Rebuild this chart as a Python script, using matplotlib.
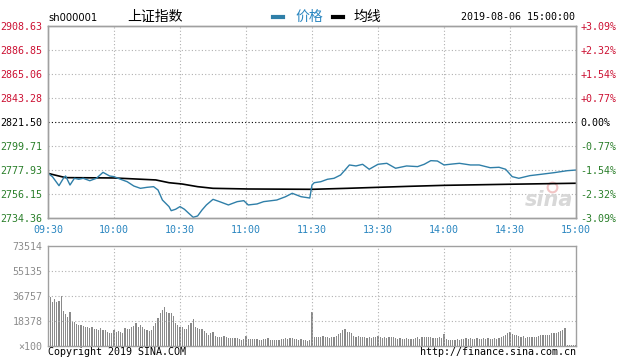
import matplotlib
matplotlib.use("Agg")
import matplotlib.pyplot as plt
import numpy as np

# axis labels / ticks
time_ticks = [0, 30, 60, 90, 120, 150, 180, 210, 240]
time_labels = ["09:30", "10:00", "10:30", "11:00", "11:30", "13:30", "14:00", "14:30", "15:00"]
price_ticks = [2908.63, 2886.85, 2865.06, 2843.28, 2821.50, 2799.71, 2777.93, 2756.15, 2734.36]
pct_labels = ["+3.09%", "+2.32%", "+1.54%", "+0.77%", "0.00%", "-0.77%", "-1.54%", "-2.32%", "-3.09%"]
vol_ticks = [0, 18378, 36757, 55135, 73514]
vol_labels = ["×100", "18378", "36757", "55135", "73514"]
pre_close = 2821.50

# price line (minute index from 09:30, afternoon continues after 120)
price_t = [0, 2, 5, 7, 8, 10, 12, 14, 16, 19, 22, 25, 28, 30, 33, 36, 39, 42, 45, 48,
           50, 52, 55, 56, 58, 60, 62, 64, 66, 68, 70, 72, 75, 78, 82, 86, 89, 91, 95, 98,
           104, 108, 111, 115, 119, 120, 121, 124, 127, 130, 133, 135, 137, 140, 143, 146, 150, 154, 158, 163,
           168, 171, 174, 177, 180, 184, 187, 192, 196, 201, 205, 208, 211, 214, 219, 224, 230, 236, 240]
price_v = [2774.9, 2771.9, 2763.7, 2770.4, 2772.5, 2764.3, 2770.4, 2769.5, 2770.4, 2768.2,
           2770.4, 2775.8, 2772.5, 2771.9, 2769.5, 2767.3, 2763.4, 2761.3, 2762.2, 2762.8,
           2759.8, 2750.7, 2744.7, 2741.0, 2742.3, 2744.7, 2742.3, 2738.6, 2735.0, 2736.2,
           2741.6, 2746.2, 2751.3, 2749.2, 2746.2, 2749.2, 2750.1, 2746.2, 2747.1, 2749.2,
           2750.7, 2753.7, 2756.8, 2753.7, 2752.5, 2764.3, 2766.4, 2767.3, 2769.5, 2770.4,
           2773.4, 2777.9, 2782.5, 2781.6, 2783.1, 2778.6, 2783.1, 2784.0, 2779.5, 2781.6,
           2781.0, 2783.1, 2786.4, 2786.1, 2782.5, 2783.4, 2784.0, 2782.5, 2782.5, 2780.0,
           2780.4, 2778.6, 2771.9, 2770.4, 2772.8, 2774.0, 2775.5, 2777.3, 2777.9]

# average line
avg_t = [0, 3, 8, 30, 49, 55, 61, 68, 75, 91, 120, 136, 164, 180, 210, 240]
avg_v = [2774.9, 2773.4, 2771.0, 2770.7, 2768.9, 2766.4, 2765.2, 2762.8, 2761.3, 2760.7,
         2760.4, 2761.3, 2763.1, 2764.0, 2765.0, 2765.9]

# volume per minute (x100)
volume = [36757, 35800, 32600, 34300, 32600, 33000, 36757, 26000, 23500, 21600,
          25200, 17900, 17900, 16200, 15400, 15400, 14700, 13700, 14200, 13000,
          13700, 12500, 12300, 11800, 13500, 11800, 11800, 10500, 9300, 9800,
          11800, 10000, 11300, 10500, 9300, 13000, 12500, 12300, 13700, 14900,
          16700, 14200, 15400, 13700, 12300, 11800, 11300, 11800, 14700, 16700,
          20300, 24500, 26500, 28900, 25200, 24500, 24500, 22000, 16700, 15400,
          13700, 14200, 12300, 12300, 15400, 16700, 19600, 14200, 13000, 12300,
          12300, 11300, 9800, 8100, 9300, 10500, 7400, 6900, 6400, 6900,
          7600, 6900, 6100, 6100, 5600, 5600, 6100, 4900, 4400, 4900,
          7400, 4900, 4900, 4900, 4900, 4900, 4400, 4400, 4900, 4900,
          5600, 4400, 4400, 4400, 4400, 4400, 4900, 4900, 5600, 5100,
          5600, 5600, 4900, 4900, 4400, 4900, 4400, 4400, 3900, 4400,
          25200,
          6900, 6400, 6400, 6900, 7400, 6900, 6400, 5600, 6400, 6900,
          7400, 8800, 9800, 11800, 12300, 10300, 10500, 9800, 7400, 6900,
          7400, 6400, 6900, 6400, 5600, 6400, 5600, 6400, 6900, 7400,
          6400, 5600, 6400, 5600, 6900, 6900, 6400, 5600, 4900, 5600,
          4900, 5400, 5600, 4900, 5400, 5400, 5600, 6400, 5400, 6400,
          6400, 6900, 6400, 6900, 5600, 6100, 5600, 6400, 5600,
          8800,
          4900, 4400, 4400, 4400, 4400, 4900, 4400, 5400, 4900, 5600,
          4900, 5600, 4900, 5400, 5600, 4900, 5400, 5600, 5400, 5600,
          5400, 5400, 5600, 5400, 5600, 6400, 7400, 8100, 9800, 10500,
          8800, 8100, 8100, 7400, 6400, 7400, 5600, 6400, 6400, 6400,
          6900, 6400, 7400, 8100, 8100, 8100, 8100, 8100, 9300, 9300,
          9800, 10500, 11300, 11800, 13000,
          700, 600, 600, 500, 500]

RED = "#cc1133"
GREEN = "#2a7f2a"
BLUE = "#2a86c0"
LINE = "#2f7fa8"
GRID = "#b0b0b0"
MONO = "DejaVu Sans Mono"
FS = 7.2

W, H = 623, 358
fig = plt.figure(figsize=(W / 100, H / 100), dpi=100)


def px_axes(l, t, r, b):
    return fig.add_axes([l / W, 1 - b / H, (r - l) / W, (b - t) / H])


ax = px_axes(48, 26, 576, 218)
ax.set_xlim(0, 240)
ax.set_ylim(price_ticks[-1], price_ticks[0])

for yv in price_ticks[1:-1]:
    if yv == pre_close:
        ax.axhline(yv, color="black", lw=0.8, ls=(0, (1, 2)))
    else:
        ax.axhline(yv, color=GRID, lw=0.8, ls=(0, (1, 2)))
for xv in time_ticks[1:-1]:
    ax.axvline(xv, color=GRID, lw=0.8, ls=(0, (1, 2)))

# sina watermark
ax.text(0.995, 0.04, "sina", transform=ax.transAxes, ha="right", va="bottom",
        fontsize=15, fontstyle="italic", fontweight="bold", color="#d8d8d8")
ax.plot([0.955], [0.16], transform=ax.transAxes, marker="o", ms=7, mfc="none",
        mec="#f2c4c4", mew=1.5)

ax.plot(avg_t, avg_v, color="black", lw=1.2)
ax.plot(price_t, price_v, color=LINE, lw=1.0)

ax.set_yticks(price_ticks)
ax.set_yticklabels([f"{v:.2f}" for v in price_ticks], fontfamily=MONO, fontsize=FS)
for lab, v in zip(ax.get_yticklabels(), price_ticks):
    lab.set_color(RED if v > pre_close else ("black" if v == pre_close else GREEN))
ax.set_xticks(time_ticks)
ax.set_xticklabels(time_labels, fontfamily=MONO, fontsize=FS, color=BLUE)
ax.tick_params(length=0, pad=4)
ax.tick_params(axis="x", pad=5)

ax2 = ax.twinx()
ax2.set_ylim(ax.get_ylim())
ax2.set_yticks(price_ticks)
ax2.set_yticklabels(pct_labels, fontfamily=MONO, fontsize=FS)
for lab, v in zip(ax2.get_yticklabels(), price_ticks):
    lab.set_color(RED if v > pre_close else ("black" if v == pre_close else GREEN))
ax2.tick_params(length=0, pad=3)

for a in (ax, ax2):
    for s in a.spines.values():
        s.set_color("#a0a0a0")
        s.set_linewidth(1.0)

# volume panel
vax = px_axes(48, 246, 576, 346)
vax.set_xlim(0, 240)
vax.set_ylim(0, vol_ticks[-1])
for yv in vol_ticks[1:-1]:
    vax.axhline(yv, color=GRID, lw=0.8, ls=(0, (1, 2)))
for xv in time_ticks[1:-1]:
    vax.axvline(xv, color=GRID, lw=0.8, ls=(0, (1, 2)))
vax.bar(np.arange(len(volume)), volume, width=0.5, color="#8a8a8a", align="center",
        linewidth=0, antialiased=False)
vax.set_yticks(vol_ticks)
vax.set_yticklabels(vol_labels, fontfamily=MONO, fontsize=FS, color="#8c8c8c")
vax.set_xticks([])
vax.tick_params(length=0, pad=4)
for s in vax.spines.values():
    s.set_color("#a0a0a0")
    s.set_linewidth(1.0)

# header
fig.text(48 / W, 1 - 18 / H, "sh000001", fontfamily="DejaVu Sans", fontsize=7.2, va="center", ha="left")
fig.text(155 / W, 1 - 17 / H, "上证指数", fontfamily=["Noto Sans CJK SC", "DejaVu Sans"], fontsize=10,
         va="center", ha="center")
fig.add_artist(plt.Line2D([273 / W, 283 / W], [1 - 17 / H, 1 - 17 / H], color=LINE, lw=3))
fig.text(295 / W, 1 - 17 / H, "价格", fontfamily=["Noto Sans CJK SC", "DejaVu Sans"], fontsize=10,
         color=BLUE, va="center", ha="left")
fig.add_artist(plt.Line2D([333 / W, 343 / W], [1 - 17 / H, 1 - 17 / H], color="black", lw=3))
fig.text(354 / W, 1 - 17 / H, "均线", fontfamily=["Noto Sans CJK SC", "DejaVu Sans"], fontsize=10,
         va="center", ha="left")
fig.text(575 / W, 1 - 17 / H, "2019-08-06 15:00:00", fontfamily=MONO, fontsize=FS, va="center", ha="right")

# footer
fig.text(48 / W, 1 - 352 / H, "Copyright 2019 SINA.COM", fontfamily=MONO, fontsize=FS, va="center", ha="left")
fig.text(576 / W, 1 - 352 / H, "http://finance.sina.com.cn", fontfamily=MONO, fontsize=FS,
         va="center", ha="right")

fig.savefig("out.png", dpi=100)
